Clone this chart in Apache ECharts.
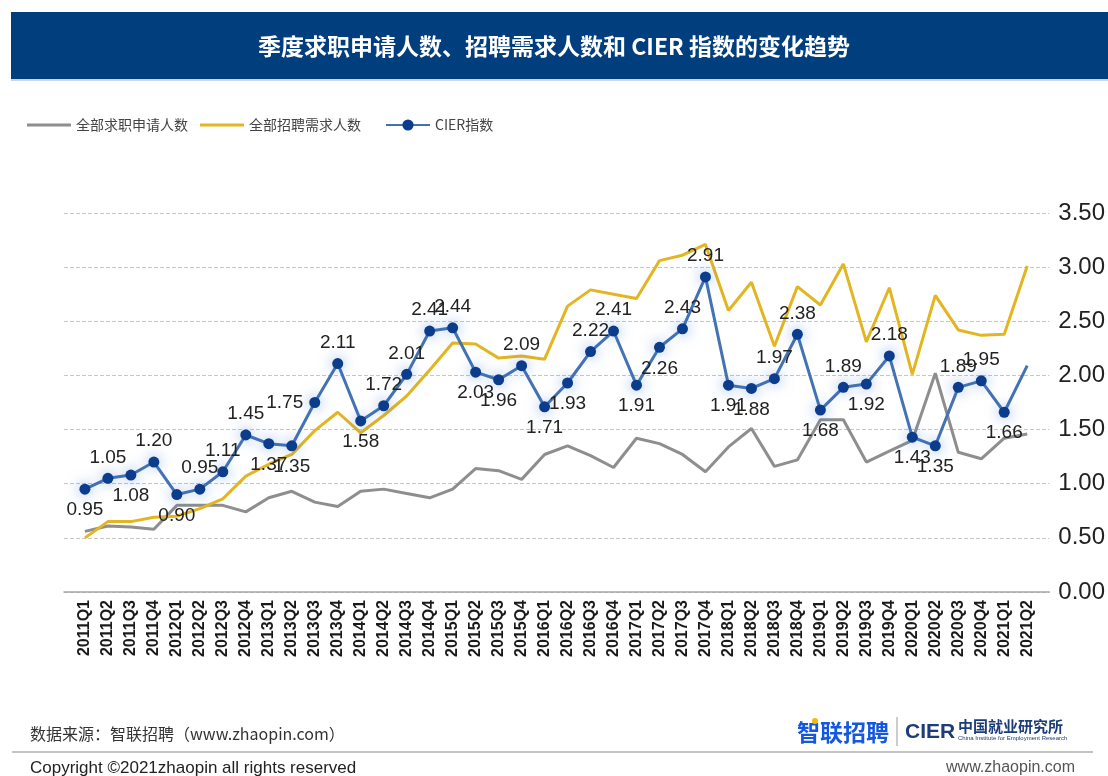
<!DOCTYPE html>
<html>
<head>
<meta charset="utf-8">
<title>季度求职申请人数、招聘需求人数和 CIER 指数的变化趋势</title>
<script src="https://cdn.jsdelivr.net/npm/echarts@6/dist/echarts.min.js"></script>
<style>
  html, body { margin: 0; padding: 0; background: #fff; }
  #chart { width: 1108px; height: 776px; }
</style>
</head>
<body>
<div id="chart"></div>
<script>
// quarters on the x axis
const quarters = [
  '2011Q1', '2011Q2', '2011Q3', '2011Q4', '2012Q1', '2012Q2', '2012Q3', '2012Q4',
  '2013Q1', '2013Q2', '2013Q3', '2013Q4', '2014Q1', '2014Q2', '2014Q3', '2014Q4',
  '2015Q1', '2015Q2', '2015Q3', '2015Q4', '2016Q1', '2016Q2', '2016Q3', '2016Q4',
  '2017Q1', '2017Q2', '2017Q3', '2017Q4', '2018Q1', '2018Q2', '2018Q3', '2018Q4',
  '2019Q1', '2019Q2', '2019Q3', '2019Q4', '2020Q1', '2020Q2', '2020Q3', '2020Q4',
  '2021Q1', '2021Q2'
]

// 全部求职申请人数
const applicants = [
  0.56, 0.61, 0.60, 0.58, 0.80, 0.80, 0.80, 0.74, 0.87, 0.93, 0.83, 0.79,
  0.93, 0.95, 0.91, 0.87, 0.95, 1.14, 1.12, 1.04, 1.27, 1.35, 1.26, 1.15,
  1.42, 1.37, 1.27, 1.11, 1.34, 1.51, 1.16, 1.22, 1.59, 1.59, 1.20, 1.30,
  1.40, 2.02, 1.29, 1.23, 1.42, 1.46
]

// 全部招聘需求人数
const demand = [
  0.50, 0.65, 0.65, 0.69, 0.70, 0.77, 0.86, 1.07, 1.18, 1.27, 1.49, 1.66,
  1.47, 1.63, 1.81, 2.05, 2.30, 2.29, 2.16, 2.18, 2.15, 2.64, 2.79, 2.75,
  2.71, 3.06, 3.11, 3.21, 2.60, 2.86, 2.27, 2.82, 2.65, 3.03, 2.31, 2.81,
  2.01, 2.74, 2.42, 2.37, 2.38, 3.01
]

// CIER指数
const cier = [
  0.95, 1.05, 1.08, 1.20, 0.90, 0.95, 1.11, 1.45, 1.37, 1.35, 1.75, 2.11,
  1.58, 1.72, 2.01, 2.41, 2.44, 2.03, 1.96, 2.09, 1.71, 1.93, 2.22, 2.41,
  1.91, 2.26, 2.43, 2.91, 1.91, 1.88, 1.97, 2.38, 1.68, 1.89, 1.92, 2.18,
  1.43, 1.35, 1.89, 1.95, 1.66, 2.09
]

const yTicks = [0, 0.5, 1, 1.5, 2, 2.5, 3, 3.5]

// where each CIER label sits
const labelPos = [
  'bottom', 'top', 'bottom', 'top', 'bottom', 'top', 'top', 'top', 'bottom', 'bottom',
  'left', 'top', 'bottom', 'top', 'top', 'top', 'top', 'bottom', 'bottom', 'top',
  'bottom', 'bottom', 'top', 'top', 'bottom', 'bottom', 'top', 'top', 'bottom', 'bottom',
  'top', 'top', 'bottom', 'top', 'bottom', 'top', 'bottom', 'bottom', 'top', 'top',
  'bottom', 'top'
]

const idx = quarters.map((q, i) => i)
const numFont = 'Arial, "Liberation Sans", Helvetica, sans-serif'
const cjkFont = '"Noto Sans CJK SC", "Noto Sans", sans-serif'

const chart = echarts.init(document.getElementById('chart'))

const legendText = { fontSize: 14, color: '#444', fontFamily: cjkFont }

chart.setOption({
  animation: false,
  backgroundColor: '#fff',
  graphic: [
    // title bar
    { type: 'rect', shape: { x: 11, y: 12, width: 1097, height: 68 }, style: { fill: '#013e7d' } },
    { type: 'rect', shape: { x: 11, y: 79, width: 1097, height: 2 }, style: { fill: '#c9d6e8' } },
    {
      type: 'text', x: 554, y: 46,
      style: {
        text: '季度求职申请人数、招聘需求人数和 CIER 指数的变化趋势',
        fill: '#fff', fontSize: 23, fontWeight: 'bold', fontFamily: cjkFont,
        textAlign: 'center', textVerticalAlign: 'middle'
      }
    },
    // footer
    {
      type: 'text', x: 30, y: 734,
      style: {
        text: '数据来源：智联招聘（www.zhaopin.com）',
        fill: '#333', fontSize: 16, fontFamily: cjkFont, textVerticalAlign: 'middle'
      }
    },
    { type: 'line', shape: { x1: 12, y1: 752, x2: 1093, y2: 752 }, style: { stroke: '#c4c4c4', lineWidth: 2 } },
    {
      type: 'text', x: 30, y: 768,
      style: {
        text: 'Copyright ©2021zhaopin all rights reserved',
        fill: '#222', fontSize: 17, fontFamily: numFont, textVerticalAlign: 'middle'
      }
    },
    {
      type: 'text', x: 1075, y: 768,
      style: {
        text: 'www.zhaopin.com', fill: '#555', fontSize: 16, fontFamily: numFont,
        textAlign: 'right', textVerticalAlign: 'middle'
      }
    },
    // logos
    {
      type: 'text', x: 797, y: 732,
      style: {
        text: '智联招聘', fill: '#1458e0', fontSize: 23, fontWeight: 'bold',
        fontFamily: cjkFont, textVerticalAlign: 'middle'
      }
    },
    { type: 'circle', shape: { cx: 815, cy: 721, r: 3 }, style: { fill: '#f6b900' } },
    { type: 'line', shape: { x1: 897, y1: 717, x2: 897, y2: 746 }, style: { stroke: '#999', lineWidth: 1 } },
    {
      type: 'text', x: 905, y: 732,
      style: {
        text: 'CIER', fill: '#1d3d78', fontSize: 21, fontWeight: 'bold',
        fontFamily: numFont, textVerticalAlign: 'middle'
      }
    },
    {
      type: 'text', x: 958, y: 726,
      style: {
        text: '中国就业研究所', fill: '#1d3d78', fontSize: 15, fontWeight: 'bold',
        fontFamily: cjkFont, textVerticalAlign: 'middle'
      }
    },
    {
      type: 'text', x: 958, y: 738,
      style: {
        text: 'China Institute for Employment Research', fill: '#1d3d78', fontSize: 6,
        fontFamily: numFont, textVerticalAlign: 'middle'
      }
    }
  ],
  legend: [
    {
      data: [{ name: '全部求职申请人数', icon: 'rect' }], left: 27, top: 118, padding: 0,
      itemWidth: 44, itemHeight: 3, textStyle: legendText
    },
    {
      data: [{ name: '全部招聘需求人数', icon: 'rect' }], left: 200, top: 118, padding: 0,
      itemWidth: 44, itemHeight: 3, textStyle: legendText
    },
    {
      data: ['CIER指数'], left: 385, top: 118, padding: 0,
      itemWidth: 44, itemHeight: 14, textStyle: legendText
    }
  ],
  grid: {
    left: 64,
    right: 57,
    top: 213,
    bottom: 184
  },
  xAxis: {
    type: 'value',
    min: -0.91,
    max: 41.96,
    splitLine: { show: false },
    axisTick: { show: false },
    axisLine: { show: true, lineStyle: { color: '#a6a6a6', width: 1.5 } },
    axisLabel: {
      customValues: idx,
      formatter: v => quarters[Math.round(v)] || '',
      rotate: 90,
      margin: 8,
      fontSize: 16,
      fontWeight: 'bold',
      color: '#1a1a1a',
      fontFamily: numFont
    }
  },
  yAxis: {
    type: 'value',
    position: 'right',
    min: yTicks[0],
    max: yTicks[yTicks.length - 1],
    interval: 0.5,
    axisLine: { show: false },
    axisTick: { show: false },
    splitLine: { lineStyle: { type: 'dashed', color: '#c6c6c6', width: 1 } },
    axisLabel: {
      formatter: v => v.toFixed(2),
      margin: 9,
      fontSize: 24,
      color: '#222',
      fontFamily: numFont
    }
  },
  series: [
    {
      name: '全部求职申请人数',
      type: 'line',
      symbol: 'none',
      data: applicants.map((v, i) => [i, v]),
      lineStyle: { color: '#8e8e8e', width: 3 },
      itemStyle: { color: '#8e8e8e' },
      z: 2
    },
    {
      name: '全部招聘需求人数',
      type: 'line',
      symbol: 'none',
      data: demand.map((v, i) => [i, v]),
      lineStyle: { color: '#e3b521', width: 3 },
      itemStyle: { color: '#e3b521' },
      z: 3
    },
    {
      name: 'CIER指数',
      type: 'line',
      symbol: 'circle',
      symbolSize: 11,
      data: cier.map((v, i) => {
        const item = { value: [i, v], label: { position: labelPos[i] } }
        if (i === cier.length - 1) item.symbol = 'none'
        return item
      }),
      lineStyle: { color: '#4473b3', width: 3 },
      itemStyle: {
        color: '#0b3d8c',
        shadowBlur: 14,
        shadowColor: 'rgba(50, 110, 210, 0.6)'
      },
      label: {
        show: true,
        formatter: p => p.value[1].toFixed(2),
        fontSize: 19,
        color: '#222',
        fontFamily: numFont,
        distance: 6
      },
      z: 4
    }
  ]
})
</script>
</body>
</html>
